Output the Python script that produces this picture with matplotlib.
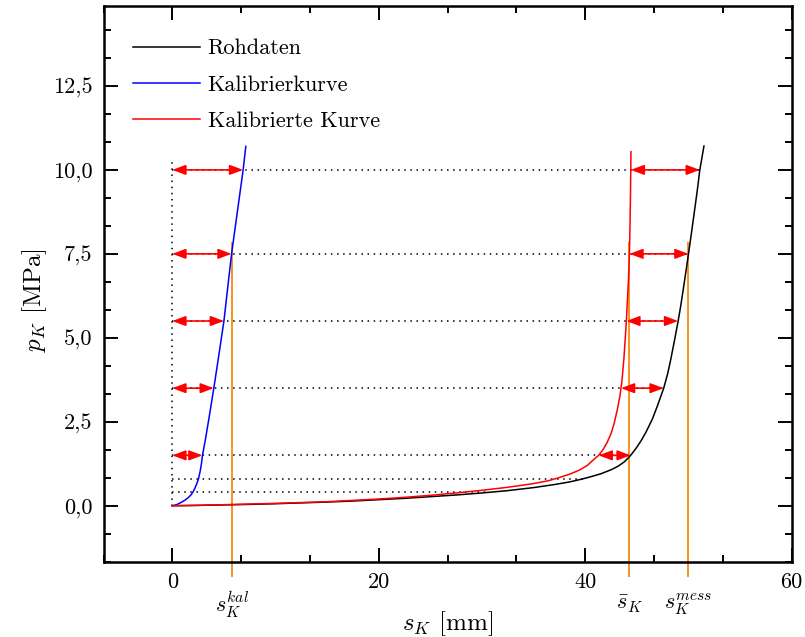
import numpy as np
import matplotlib
matplotlib.use("Agg")
import matplotlib.pyplot as plt
from matplotlib.ticker import MultipleLocator, FuncFormatter

plt.rcParams["font.family"] = "serif"
plt.rcParams["font.serif"] = ["cmr10"]
plt.rcParams["mathtext.fontset"] = "cm"
plt.rcParams["axes.formatter.use_mathtext"] = True

# raw displacement curve (s in mm, p in MPa)
black_s = [0, 2.5, 5, 7.5, 10, 12.5, 15, 17.5, 20, 22.5, 25, 27.5, 30, 32.5, 35, 37, 38.5,
           39.5, 40.5, 41.5, 42.5, 43.2, 43.8, 44.4, 44.9, 45.4, 45.9, 46.5, 47.0, 47.6,
           48.0, 48.3, 48.65, 49.0, 49.25, 49.5, 49.75, 50.0, 50.28, 50.57, 50.85, 51.1, 51.5]
black_p = [0, 0.01, 0.025, 0.04, 0.06, 0.085, 0.11, 0.14, 0.18, 0.22, 0.27, 0.32, 0.38, 0.45,
           0.54, 0.63, 0.71, 0.78, 0.86, 0.95, 1.07, 1.18, 1.31, 1.5, 1.7, 1.93, 2.2, 2.58, 2.98,
           3.5, 3.95, 4.38, 4.93, 5.5, 5.95, 6.45, 6.97, 7.5, 8.1, 8.75, 9.38, 10.0, 10.71]

# calibration curve
blue_s = [0, 0.4, 0.8, 1.2, 1.5, 1.8, 2.0, 2.2, 2.4, 2.55, 2.7, 2.82, 2.92, 3.2, 3.6, 4.02,
          4.5, 5.0, 5.35, 5.74, 6.3, 6.86, 7.12]
blue_p = [0, 0.03, 0.09, 0.16, 0.23, 0.32, 0.41, 0.53, 0.68, 0.82, 1.03, 1.25, 1.5, 1.96,
          2.7, 3.5, 4.47, 5.5, 6.45, 7.5, 8.75, 10.0, 10.7]

# calibrated curve
red_s = [0, 2.5, 5, 7.5, 10, 12.5, 15, 17.5, 20, 22.5, 25, 27.5, 30, 32.5, 35, 36.5, 37.5,
         38.5, 39.5, 40.2, 40.8, 41.3, 41.7, 42.1, 42.5, 42.8, 43.1, 43.35, 43.55, 43.75,
         43.9, 44.0, 44.1, 44.2, 44.28, 44.34, 44.38, 44.41, 44.43]
red_p = [0, 0.012, 0.03, 0.05, 0.07, 0.095, 0.12, 0.16, 0.2, 0.25, 0.31, 0.38, 0.46, 0.55,
         0.66, 0.75, 0.84, 0.94, 1.07, 1.2, 1.37, 1.5, 1.66, 1.87, 2.15, 2.45, 2.85, 3.25,
         3.7, 4.4, 5.1, 5.6, 6.2, 6.8, 7.5, 8.4, 9.2, 10.0, 10.54]

arrow_levels = [10.0, 7.5, 5.5, 3.5, 1.5]
dotted_levels = [10.0, 7.5, 5.5, 3.5, 1.5, 0.8, 0.4]
marker_level = 7.5
marker_labels = [r"$s_K^{kal}$", r"$\bar{s}_K$", r"$s_K^{mess}$"]

orange = "#F7941D"

fig = plt.figure(figsize=(8.05, 6.37), dpi=100)
ax = fig.add_axes([103.5 / 805, (637 - 561.7) / 637, 688.2 / 805, 555.7 / 637])

# dotted guide lines
ax.plot([0, 0], [0, 10.36], color="black", lw=1.1, ls=(0, (1, 3)), zorder=2)
for L in dotted_levels:
    xe = np.interp(L, black_p, black_s)
    ax.plot([0, xe], [L, L], color="black", lw=1.1, ls=(0, (1, 3)), zorder=2)

# orange marker lines at 7.5 MPa
xs_mark = [np.interp(marker_level, blue_p, blue_s),
           np.interp(marker_level, red_p, red_s),
           np.interp(marker_level, black_p, black_s)]
for xm, lab in zip(xs_mark, marker_labels):
    ax.plot([xm, xm], [7.83, -2.1], color=orange, lw=1.4, clip_on=False, zorder=1)
    ax.text(xm, -2.95, lab, ha="center", va="center", fontsize=16, clip_on=False)

ax.plot(black_s, black_p, color="black", lw=1.1, label="Rohdaten", zorder=3)
ax.plot(blue_s, blue_p, color="#0000ff", lw=1.1, label="Kalibrierkurve", zorder=3)
ax.plot(red_s, red_p, color="#ff0000", lw=1.1, label="Kalibrierte Kurve", zorder=4)

# double arrows
aprops = dict(arrowstyle="<|-|>,head_length=0.8,head_width=0.3", color="#ff0000",
              lw=1.2, shrinkA=0, shrinkB=0, mutation_scale=10)
for L in arrow_levels:
    xb = np.interp(L, blue_p, blue_s)
    xr = np.interp(L, red_p, red_s)
    xk = np.interp(L, black_p, black_s)
    ax.annotate("", xy=(xb, L), xytext=(0, L), arrowprops=aprops, zorder=5)
    ax.annotate("", xy=(xk, L), xytext=(xr, L), arrowprops=aprops, zorder=5)

ax.set_xlim(-20 / 3, 60)
ax.set_ylim(-5 / 3, 14.88)
ax.xaxis.set_major_locator(MultipleLocator(20))
ax.xaxis.set_minor_locator(MultipleLocator(20 / 3))
ax.yaxis.set_major_locator(MultipleLocator(2.5))
ax.yaxis.set_minor_locator(MultipleLocator(2.5 / 3))
ax.xaxis.set_major_formatter(FuncFormatter(lambda v, _: f"{v:.0f}"))
ax.yaxis.set_major_formatter(FuncFormatter(lambda v, _: f"{v:.1f}".replace(".", ",")))

ax.tick_params(which="both", direction="in", top=True, right=True, width=1.4)
ax.tick_params(which="major", length=10, labelsize=16, pad=8)
ax.tick_params(which="minor", length=5)
for sp in ax.spines.values():
    sp.set_linewidth(1.8)

ax.set_xlabel(r"$s_K$ [mm]", fontsize=18, labelpad=12)
ax.set_ylabel(r"$p_K$ [MPa]", fontsize=18, labelpad=3)
ax.yaxis.label.set_y(0.47)

ax.legend(loc="upper left", bbox_to_anchor=(0.043, 0.941), frameon=False, fontsize=16,
          handlelength=3.0, handletextpad=0.35, labelspacing=0.75,
          borderaxespad=0, borderpad=0)

fig.savefig("out.png", dpi=100)
